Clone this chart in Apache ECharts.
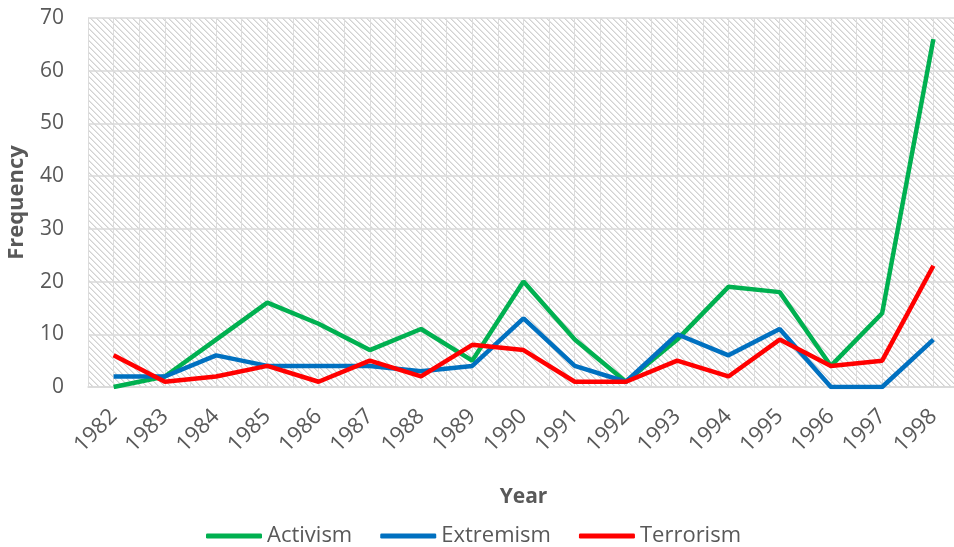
<!DOCTYPE html>
<html><head><meta charset="utf-8">
<script src="https://cdn.jsdelivr.net/npm/echarts@6/dist/echarts.min.js"></script>
<style>html,body{margin:0;padding:0;background:#fff}#c{width:954px;height:547px}</style>
</head><body><div id="c"></div>
<script>
const years = ['1982','1983','1984','1985','1986','1987','1988','1989','1990','1991','1992','1993','1994','1995','1996','1997','1998'];
const activism = [0,2,9,16,12,7,11,5,20,9,1,9,19,18,4,14,66];
const extremism = [2,2,6,4,4,4,3,4,13,4,1,10,6,11,0,0,9];
const terrorism = [6,1,2,4,1,5,2,8,7,1,1,5,2,9,4,5,23];
const yTicks = [0,10,20,30,40,50,60,70];

const n = 6;
const pc = document.createElement('canvas');
pc.width = n; pc.height = n;
const g = pc.getContext('2d');
g.fillStyle = '#ffffff'; g.fillRect(0,0,n,n);
for (let y=0;y<n;y++) for (let x=0;x<n;x++) {
  const d = ((x - y) % n + n) % n;
  if (d === 0) { g.fillStyle = '#d2d2d2'; g.fillRect(x,y,1,1); }
  if (d === 1) { g.fillStyle = '#e6e6e6'; g.fillRect(x,y,1,1); }
}

const font = "'Open Sans', sans-serif";
const chart = echarts.init(document.getElementById('c'), null, {renderer:'canvas'});
chart.setOption({
  animation:false,
  textStyle:{fontFamily:font},
  grid:{left:88,right:-5,top:18,bottom:160,outerBoundsMode:'none',containLabel:false,show:true,borderWidth:0,backgroundColor:{image:pc,repeat:'repeat'}},
  legend:{
    left:201, top:520, itemWidth:56, itemHeight:5, itemGap:28, icon:'roundRect',
    textStyle:{fontSize:22,color:'#595959',fontFamily:font},
    data:['Activism','Extremism','Terrorism']
  },
  xAxis:[{
    type:'category', data:years, boundaryGap:true,
    name:'Year', nameLocation:'middle', nameGap:100,
    nameTextStyle:{fontSize:21,fontWeight:'bold',color:'#595959'},
    axisLine:{lineStyle:{color:'#d9d9d9',width:1.5}}, axisTick:{show:false},
    axisLabel:{rotate:45,fontSize:22,color:'#595959',margin:26,interval:0},
    splitLine:{show:false}
  },{
    type:'value', min:0, max:17, interval:0.5, position:'bottom',
    axisLine:{show:false}, axisTick:{show:false}, axisLabel:{show:false},
    splitLine:{show:true,lineStyle:{color:'#dcdcdc',width:1}}
  }],
  yAxis:{
    type:'value', min:yTicks[0], max:yTicks[yTicks.length-1], interval:10,
    name:'Frequency', nameLocation:'middle', nameGap:60,
    nameTextStyle:{fontSize:22,fontWeight:'bold',color:'#595959'},
    axisLine:{show:false}, axisTick:{show:false},
    axisLabel:{fontSize:21,color:'#595959',margin:24},
    splitLine:{lineStyle:{color:'#d9d9d9',width:1.5}}
  },
  series:[
    {name:'Activism',type:'line',data:activism,showSymbol:false,symbol:'none',lineStyle:{width:4.5,color:'#00B050'},itemStyle:{color:'#00B050'}},
    {name:'Extremism',type:'line',data:extremism,showSymbol:false,symbol:'none',lineStyle:{width:4.5,color:'#0070C0'},itemStyle:{color:'#0070C0'}},
    {name:'Terrorism',type:'line',data:terrorism,showSymbol:false,symbol:'none',lineStyle:{width:4.5,color:'#FF0000'},itemStyle:{color:'#FF0000'}}
  ]
});
</script></body></html>
